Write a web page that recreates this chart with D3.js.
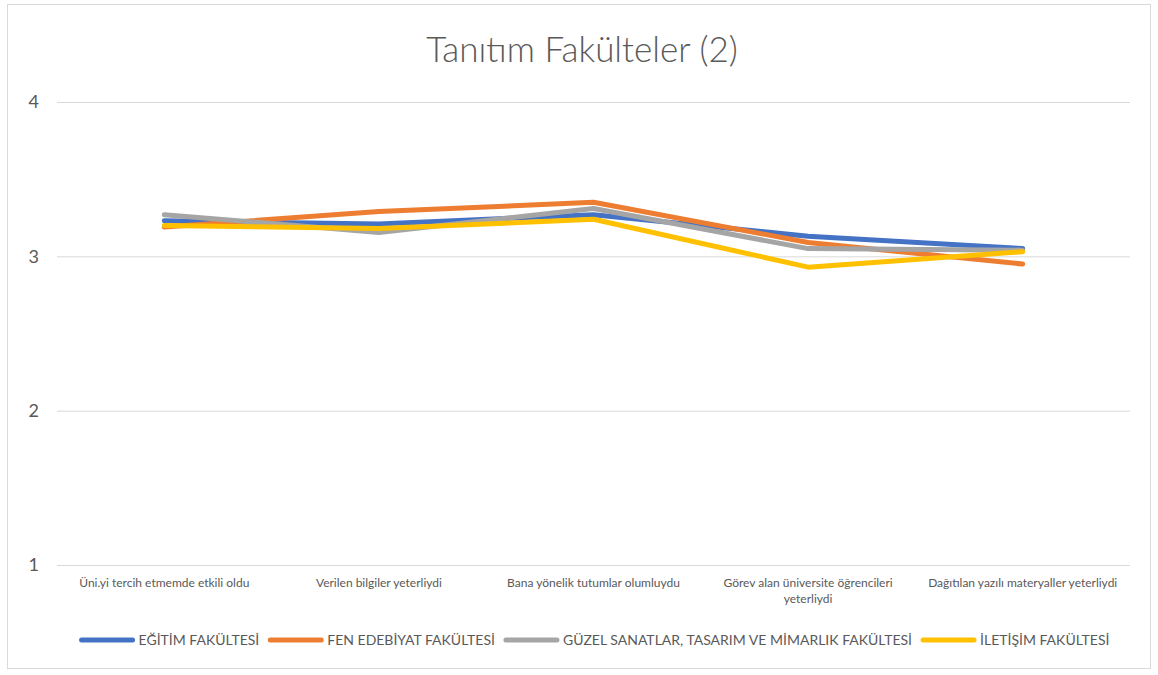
<!DOCTYPE html>
<html>
<head>
<meta charset="utf-8">
<script src="https://cdn.jsdelivr.net/npm/d3@7"></script>
<style>
  body { margin: 0; background: #fff; }
  svg { font-family: Lato, "Open Sans", sans-serif; }
</style>
</head>
<body>
<div id="chart"></div>
<script>
const TITLE = 'Tanıtım Fakülteler (2)'

const categories = [
  'Üni.yi tercih etmemde etkili oldu',
  'Verilen bilgiler yeterliydi',
  'Bana yönelik tutumlar olumluydu',
  'Görev alan üniversite öğrencileri yeterliydi',
  'Dağıtılan yazılı materyaller yeterliydi'
]

const seriesNames = [
  'EĞİTİM FAKÜLTESİ',
  'FEN EDEBİYAT FAKÜLTESİ',
  'GÜZEL SANATLAR, TASARIM VE MİMARLIK FAKÜLTESİ',
  'İLETİŞİM FAKÜLTESİ'
]

const egitim = [3.23, 3.21, 3.27, 3.13, 3.05]
const fenEdebiyat = [3.19, 3.29, 3.35, 3.09, 2.95]
const guzelSanatlar = [3.27, 3.155, 3.31, 3.05, 3.04]
const iletisim = [3.20, 3.18, 3.24, 2.93, 3.03]

const colors = ['#4472c4', '#ed7d31', '#a5a5a5', '#ffc000']
const yTicks = [1, 2, 3, 4]

const WIDTH = 1158, HEIGHT = 675
const M = { top: 102, right: 28, bottom: 110, left: 57 }

const series = [egitim, fenEdebiyat, guzelSanatlar, iletisim].map((v, i) => ({
  name: seriesNames[i], color: colors[i], values: v
}))

const svg = d3.select('#chart').append('svg')
  .attr('width', WIDTH)
  .attr('height', HEIGHT)

// chart frame
svg.append('rect')
  .attr('x', 7.5).attr('y', 4.5)
  .attr('width', 1143).attr('height', 664)
  .attr('fill', '#fff')
  .attr('stroke', '#d9d9d9')

svg.append('text')
  .attr('x', 582).attr('y', 62)
  .attr('text-anchor', 'middle')
  .attr('fill', '#595959')
  .style('font-size', '35px')
  .style('font-weight', 300)
  .text(TITLE)

const x = d3.scaleBand()
  .domain(categories)
  .range([M.left, WIDTH - M.right])

const y = d3.scaleLinear()
  .domain([1, 4])
  .range([HEIGHT - M.bottom, M.top])

// gridlines + y labels
const yAxis = svg.append('g')
  .attr('transform', 'translate(' + M.left + ',0)')
  .call(d3.axisLeft(y).tickValues(yTicks).tickFormat(d3.format('d'))
    .tickSize(-(WIDTH - M.left - M.right)).tickPadding(18))
yAxis.select('.domain').remove()
yAxis.selectAll('line').attr('stroke', '#d9d9d9')
yAxis.selectAll('text')
  .attr('fill', '#595959')
  .style('font-size', '18px')
  .style('font-family', 'Lato, sans-serif')

// category labels
const xLabels = svg.append('g')
  .selectAll('text')
  .data(categories)
  .enter().append('text')
    .attr('x', (d) => x(d) + x.bandwidth() / 2)
    .attr('y', HEIGHT - M.bottom + 22)
    .attr('text-anchor', 'middle')
    .attr('fill', '#595959')
    .style('font-size', '12px')
    .text((d) => d)

xLabels.each(function(d) {
  let t = d3.select(this)
  if (this.getComputedTextLength() <= x.bandwidth() - 10) return
  let words = d.split(' ')
  t.text(null)
  let line = [], tspan = t.append('tspan').attr('x', x(d) + x.bandwidth() / 2)
  words.forEach((w) => {
    line.push(w)
    tspan.text(line.join(' '))
    if (tspan.node().getComputedTextLength() > x.bandwidth() - 30 && line.length > 1) {
      line.pop()
      tspan.text(line.join(' '))
      line = [w]
      tspan = t.append('tspan')
        .attr('x', x(d) + x.bandwidth() / 2)
        .attr('dy', '1.35em')
        .text(w)
    }
  })
})

// lines
const line = d3.line()
  .x((d, i) => x(categories[i]) + x.bandwidth() / 2)
  .y((d) => y(d))

svg.append('g')
  .selectAll('path')
  .data(series)
  .enter().append('path')
    .attr('d', (d) => line(d.values))
    .attr('fill', 'none')
    .attr('stroke', (d) => d.color)
    .attr('stroke-width', 5)
    .attr('stroke-linecap', 'round')
    .attr('stroke-linejoin', 'round')

// legend
const legend = svg.append('g')
const items = legend.selectAll('g')
  .data(series)
  .enter().append('g')

items.append('line')
  .attr('x1', 2).attr('x2', 53)
  .attr('y1', 0).attr('y2', 0)
  .attr('stroke', (d) => d.color)
  .attr('stroke-width', 5)
  .attr('stroke-linecap', 'round')

items.append('text')
  .attr('x', 59)
  .attr('dy', '0.35em')
  .attr('fill', '#595959')
  .style('font-size', '14px')
  .text((d) => d.name)

let offset = 0
let positions = []
items.each(function() {
  positions.push(offset)
  offset += this.getBBox().width + 11
})
offset -= 11
let startX = (M.left + WIDTH - M.right) / 2 - offset / 2
items.attr('transform', (d, i) => 'translate(' + (startX + positions[i]) + ',640)')
</script>
</body>
</html>
